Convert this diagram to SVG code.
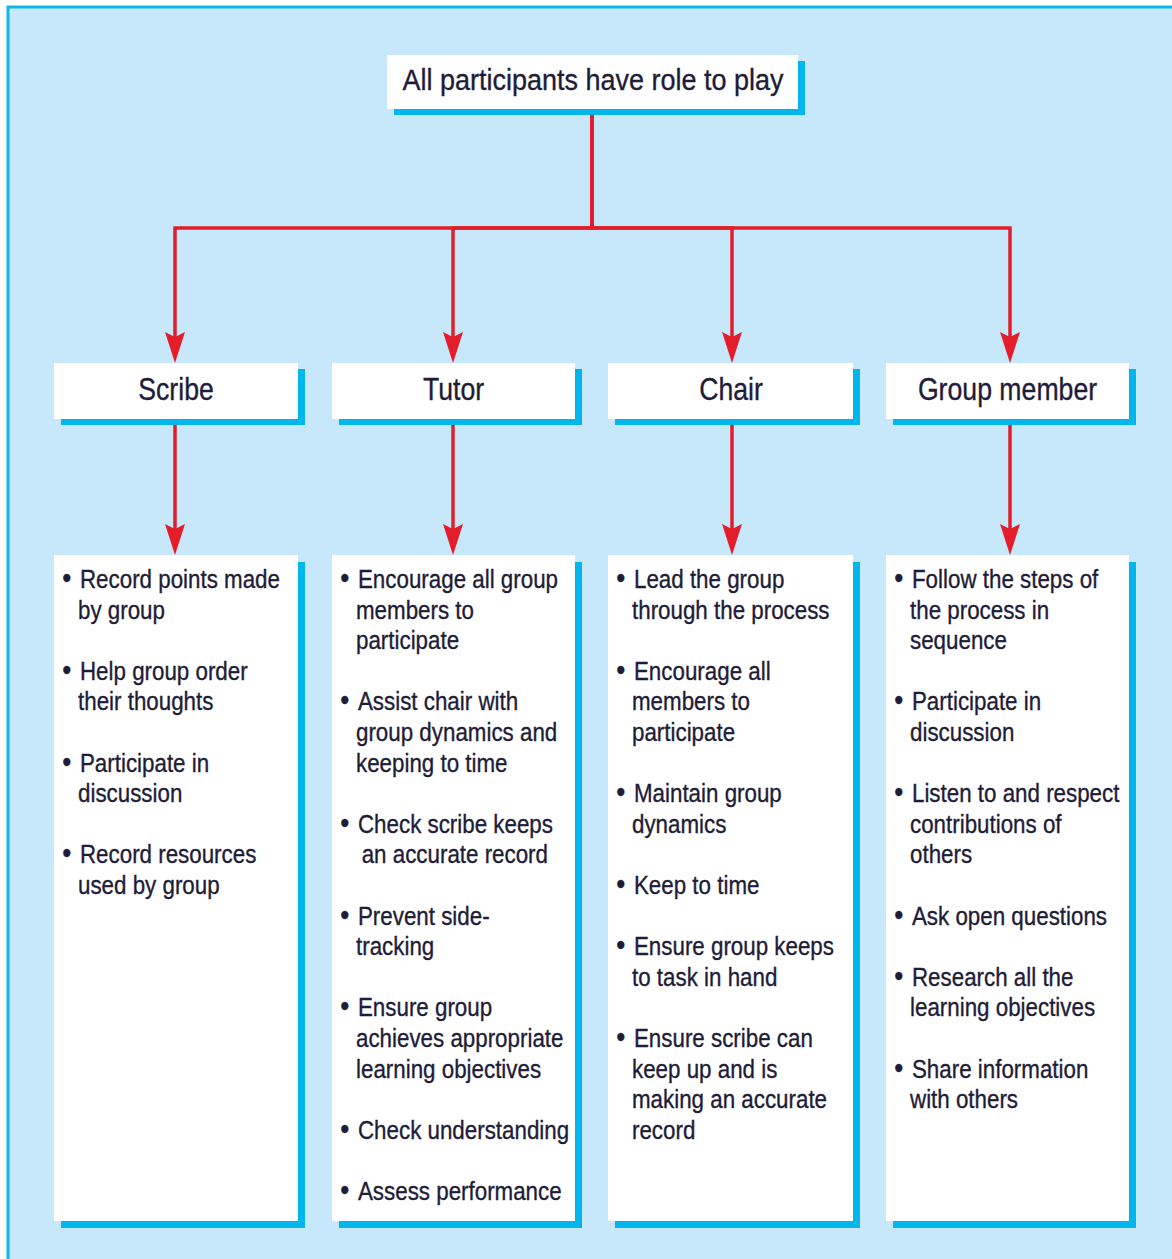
<svg xmlns="http://www.w3.org/2000/svg" width="1172" height="1259" viewBox="0 0 1172 1259">
<defs>
<style>
.box{fill:#ffffff}
.sh{fill:#00b6ec}
.t{font-family:"Liberation Sans",Arial,sans-serif;fill:#1e1c38;stroke:#1e1c38;stroke-width:0.35}
.title{font-size:30px}
.hd{font-size:31px;text-anchor:middle}
.body{font-size:26px}
.bl{font-size:30px}
.con{fill:none;stroke:#e31e2a;stroke-width:3.5;stroke-linejoin:miter}
</style>
<marker id="ah" viewBox="0 0 31 20" refX="21" refY="10" markerWidth="31" markerHeight="20" markerUnits="userSpaceOnUse" orient="auto">
<path d="M0,0 L31,10 L0,20 L5,10 Z" fill="#e31e2a"/>
</marker>
</defs>
<rect x="0" y="0" width="1172" height="1259" fill="#ffffff"/>
<rect x="8" y="7" width="1200" height="1300" fill="#c7e8fa" stroke="#0fb6e8" stroke-width="3"/>

<g id="connectors">
<path class="con" d="M592,109 V228 H175 V353" marker-end="url(#ah)"/>
<path class="con" d="M592,109 V228 H453 V353" marker-end="url(#ah)"/>
<path class="con" d="M592,109 V228 H732 V353" marker-end="url(#ah)"/>
<path class="con" d="M592,109 V228 H1010 V353" marker-end="url(#ah)"/>
<path class="con" d="M175,419 V545" marker-end="url(#ah)"/>
<path class="con" d="M453,419 V545" marker-end="url(#ah)"/>
<path class="con" d="M732,419 V545" marker-end="url(#ah)"/>
<path class="con" d="M1010,419 V545" marker-end="url(#ah)"/>
</g>

<g id="title">
<rect class="sh" x="394" y="61" width="411" height="54"/>
<rect class="box" x="387" y="55" width="411" height="54"/>
<text class="t title" text-anchor="middle" transform="translate(593,90) scale(0.9,1)" x="0" y="0">All participants have role to play</text>
</g>

<g id="scribe">
<rect class="sh" x="61" y="369" width="244" height="56"/>
<rect class="box" x="54" y="363" width="244" height="56"/>
<text class="t hd" transform="translate(176,400) scale(0.86,1)" x="0" y="0">Scribe</text>
</g>
<g id="tutor">
<rect class="sh" x="339" y="369" width="243" height="56"/>
<rect class="box" x="332" y="363" width="243" height="56"/>
<text class="t hd" transform="translate(453.5,400) scale(0.86,1)" x="0" y="0">Tutor</text>
</g>
<g id="chair">
<rect class="sh" x="615" y="369" width="245" height="56"/>
<rect class="box" x="608" y="363" width="245" height="56"/>
<text class="t hd" transform="translate(731,400) scale(0.86,1)" x="0" y="0">Chair</text>
</g>
<g id="member">
<rect class="sh" x="893" y="369" width="243" height="56"/>
<rect class="box" x="886" y="363" width="243" height="56"/>
<text class="t hd" transform="translate(1007.5,400) scale(0.86,1)" x="0" y="0">Group member</text>
</g>

<g id="scribe-tasks">
<rect class="sh" x="61" y="562" width="244" height="666"/>
<rect class="box" x="54" y="555" width="244" height="666"/>
<text class="t body" transform="translate(54,0) scale(0.86,1)">
<tspan class="bl" x="9.5" y="588">•</tspan><tspan x="30.2" y="588">Record points made</tspan>
<tspan x="27.9" y="618.6">by group</tspan>
<tspan class="bl" x="9.5" y="679.8">•</tspan><tspan x="30.2" y="679.8">Help group order</tspan>
<tspan x="27.9" y="710.4">their thoughts</tspan>
<tspan class="bl" x="9.5" y="771.6">•</tspan><tspan x="30.2" y="771.6">Participate in</tspan>
<tspan x="27.9" y="802.2">discussion</tspan>
<tspan class="bl" x="9.5" y="863.4">•</tspan><tspan x="30.2" y="863.4">Record resources</tspan>
<tspan x="27.9" y="894">used by group</tspan>
</text>
</g>

<g id="tutor-tasks">
<rect class="sh" x="339" y="562" width="243" height="666"/>
<rect class="box" x="332" y="555" width="243" height="666"/>
<text class="t body" transform="translate(332,0) scale(0.86,1)">
<tspan class="bl" x="9.5" y="588">•</tspan><tspan x="30.2" y="588">Encourage all group</tspan>
<tspan x="27.9" y="618.6">members to</tspan>
<tspan x="27.9" y="649.2">participate</tspan>
<tspan class="bl" x="9.5" y="710.4">•</tspan><tspan x="30.2" y="710.4">Assist chair with</tspan>
<tspan x="27.9" y="741">group dynamics and</tspan>
<tspan x="27.9" y="771.6">keeping to time</tspan>
<tspan class="bl" x="9.5" y="832.8">•</tspan><tspan x="30.2" y="832.8">Check scribe keeps</tspan>
<tspan x="34.5" y="863.4">an accurate record</tspan>
<tspan class="bl" x="9.5" y="924.6">•</tspan><tspan x="30.2" y="924.6">Prevent side-</tspan>
<tspan x="27.9" y="955.2">tracking</tspan>
<tspan class="bl" x="9.5" y="1016.4">•</tspan><tspan x="30.2" y="1016.4">Ensure group</tspan>
<tspan x="27.9" y="1047">achieves appropriate</tspan>
<tspan x="27.9" y="1077.6">learning objectives</tspan>
<tspan class="bl" x="9.5" y="1138.8">•</tspan><tspan x="30.2" y="1138.8">Check understanding</tspan>
<tspan class="bl" x="9.5" y="1200">•</tspan><tspan x="30.2" y="1200">Assess performance</tspan>
</text>
</g>

<g id="chair-tasks">
<rect class="sh" x="615" y="562" width="245" height="666"/>
<rect class="box" x="608" y="555" width="245" height="666"/>
<text class="t body" transform="translate(608,0) scale(0.86,1)">
<tspan class="bl" x="9.5" y="588">•</tspan><tspan x="30.2" y="588">Lead the group</tspan>
<tspan x="27.9" y="618.6">through the process</tspan>
<tspan class="bl" x="9.5" y="679.8">•</tspan><tspan x="30.2" y="679.8">Encourage all</tspan>
<tspan x="27.9" y="710.4">members to</tspan>
<tspan x="27.9" y="741">participate</tspan>
<tspan class="bl" x="9.5" y="802.2">•</tspan><tspan x="30.2" y="802.2">Maintain group</tspan>
<tspan x="27.9" y="832.8">dynamics</tspan>
<tspan class="bl" x="9.5" y="894">•</tspan><tspan x="30.2" y="894">Keep to time</tspan>
<tspan class="bl" x="9.5" y="955.2">•</tspan><tspan x="30.2" y="955.2">Ensure group keeps</tspan>
<tspan x="27.9" y="985.8">to task in hand</tspan>
<tspan class="bl" x="9.5" y="1047">•</tspan><tspan x="30.2" y="1047">Ensure scribe can</tspan>
<tspan x="27.9" y="1077.6">keep up and is</tspan>
<tspan x="27.9" y="1108.2">making an accurate</tspan>
<tspan x="27.9" y="1138.8">record</tspan>
</text>
</g>

<g id="member-tasks">
<rect class="sh" x="893" y="562" width="243" height="666"/>
<rect class="box" x="886" y="555" width="243" height="666"/>
<text class="t body" transform="translate(886,0) scale(0.86,1)">
<tspan class="bl" x="9.5" y="588">•</tspan><tspan x="30.2" y="588">Follow the steps of</tspan>
<tspan x="27.9" y="618.6">the process in</tspan>
<tspan x="27.9" y="649.2">sequence</tspan>
<tspan class="bl" x="9.5" y="710.4">•</tspan><tspan x="30.2" y="710.4">Participate in</tspan>
<tspan x="27.9" y="741">discussion</tspan>
<tspan class="bl" x="9.5" y="802.2">•</tspan><tspan x="30.2" y="802.2">Listen to and respect</tspan>
<tspan x="27.9" y="832.8">contributions of</tspan>
<tspan x="27.9" y="863.4">others</tspan>
<tspan class="bl" x="9.5" y="924.6">•</tspan><tspan x="30.2" y="924.6">Ask open questions</tspan>
<tspan class="bl" x="9.5" y="985.8">•</tspan><tspan x="30.2" y="985.8">Research all the</tspan>
<tspan x="27.9" y="1016.4">learning objectives</tspan>
<tspan class="bl" x="9.5" y="1077.6">•</tspan><tspan x="30.2" y="1077.6">Share information</tspan>
<tspan x="27.9" y="1108.2">with others</tspan>
</text>
</g>
</svg>
